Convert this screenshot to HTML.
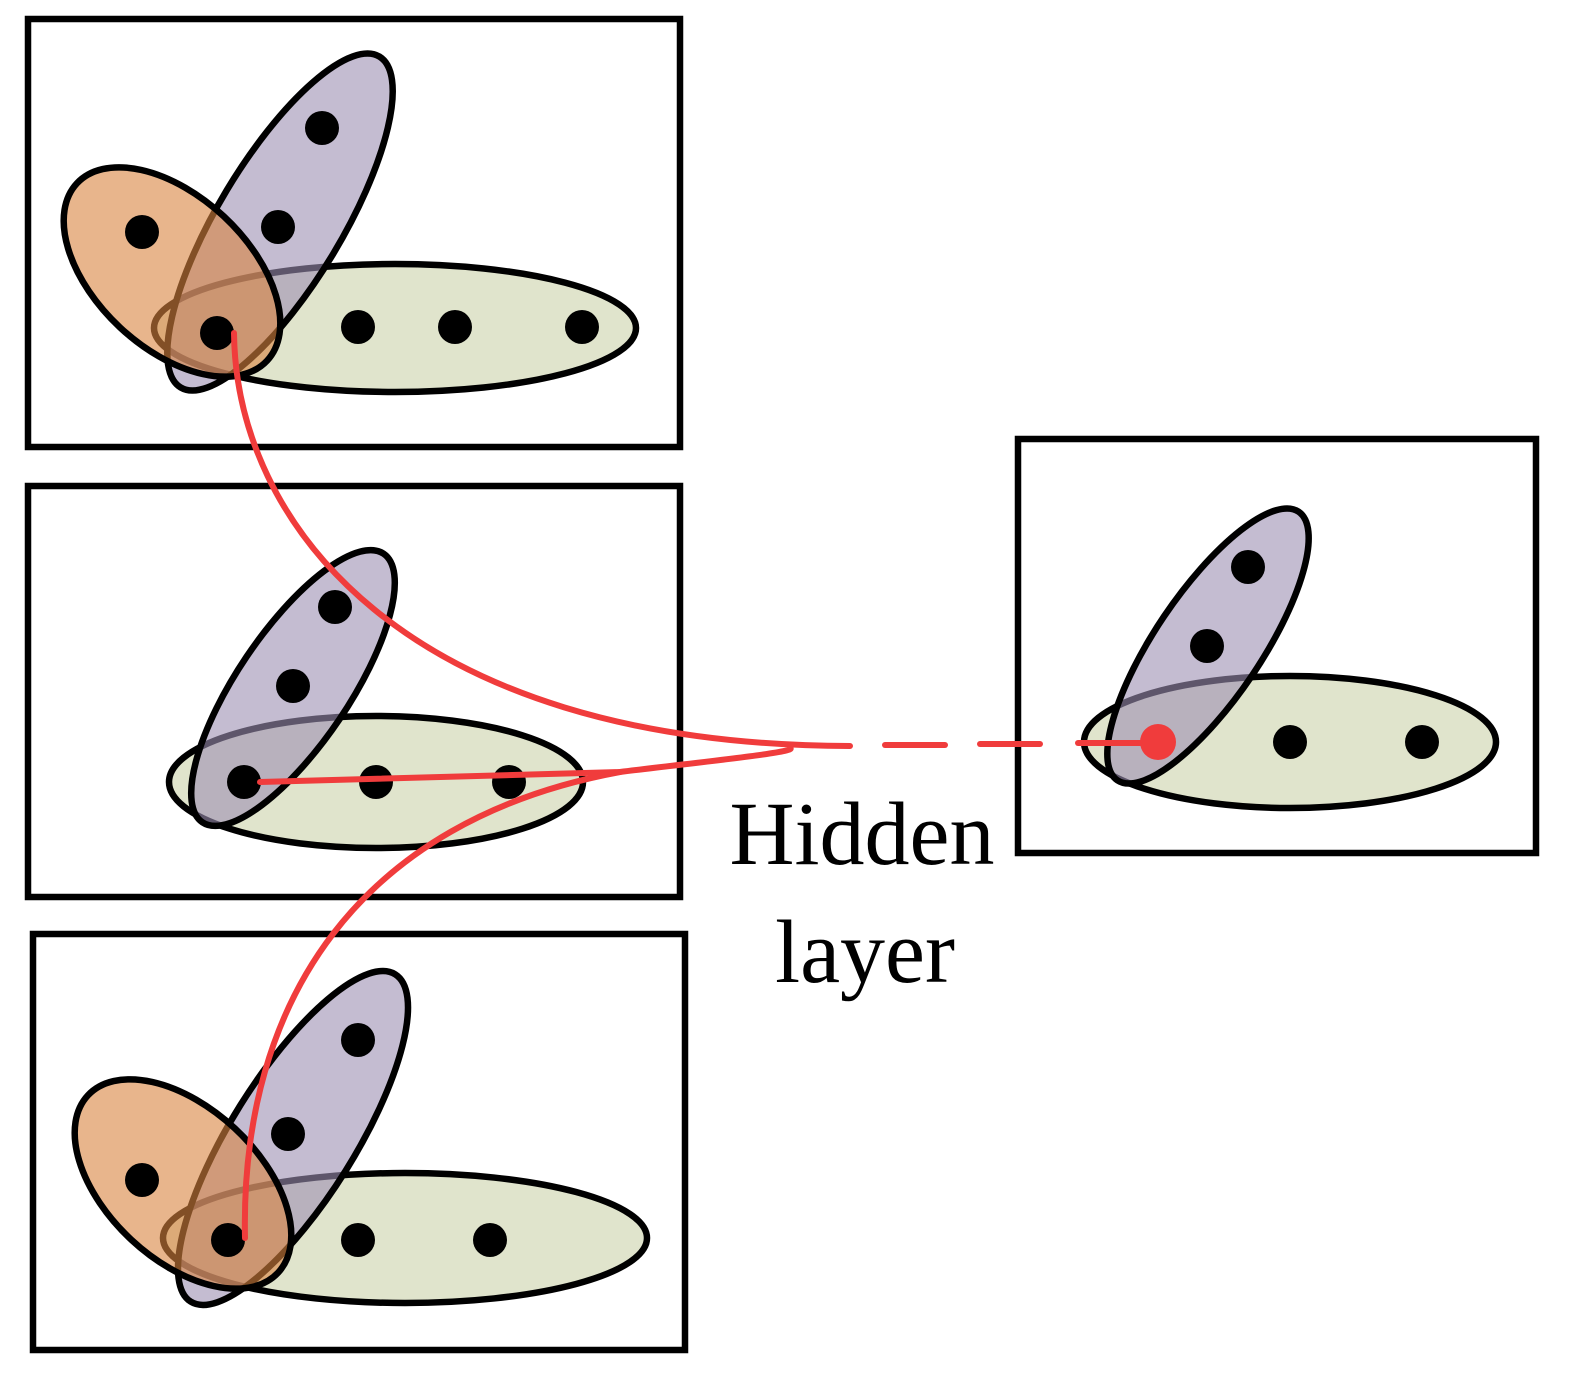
<!DOCTYPE html>
<html><head><meta charset="utf-8"><style>html,body{margin:0;padding:0;background:#fff}svg{display:block}</style></head>
<body>
<svg width="1588" height="1395" viewBox="0 0 1588 1395" xmlns="http://www.w3.org/2000/svg">
<g fill="none" stroke="#000" stroke-width="6.5">
<rect x="28" y="19" width="652" height="428"/>
<rect x="28" y="486" width="652" height="411"/>
<rect x="33" y="934" width="652" height="416"/>
<rect x="1018" y="439" width="518" height="414"/>
</g>
<g stroke="#000" stroke-width="6.5">
<ellipse cx="395" cy="328" rx="241" ry="64" fill="#e0e4cc"/>
<ellipse cx="0" cy="0" rx="193" ry="62" transform="translate(280,222) rotate(-59)" fill="#9d90b3" fill-opacity="0.6"/>
<ellipse cx="0" cy="0" rx="130" ry="76" transform="translate(172,272) rotate(43)" fill="#d9843f" fill-opacity="0.6"/>
<ellipse cx="376" cy="782" rx="207" ry="66" fill="#e0e4cc"/>
<ellipse cx="0" cy="0" rx="162" ry="56" transform="translate(293,688) rotate(-56)" fill="#9d90b3" fill-opacity="0.6"/>
<ellipse cx="405" cy="1238" rx="242" ry="65" fill="#e0e4cc"/>
<ellipse cx="0" cy="0" rx="193" ry="62" transform="translate(293,1138) rotate(-58)" fill="#9d90b3" fill-opacity="0.6"/>
<ellipse cx="0" cy="0" rx="130" ry="76" transform="translate(183,1184) rotate(43)" fill="#d9843f" fill-opacity="0.6"/>
<ellipse cx="1290" cy="742" rx="206" ry="66" fill="#e0e4cc"/>
<ellipse cx="0" cy="0" rx="162" ry="53" transform="translate(1208,646) rotate(-56)" fill="#9d90b3" fill-opacity="0.6"/>
</g>
<g fill="#000">
<circle cx="142" cy="232" r="17"/><circle cx="322" cy="128" r="17"/><circle cx="278" cy="227" r="17"/>
<circle cx="217" cy="333" r="17"/><circle cx="358" cy="327" r="17"/><circle cx="455" cy="327" r="17"/><circle cx="582" cy="327" r="17"/>
<circle cx="335" cy="607" r="17"/><circle cx="293" cy="686" r="17"/><circle cx="244" cy="782" r="17"/><circle cx="376" cy="782" r="17"/><circle cx="509" cy="782" r="17"/>
<circle cx="142" cy="1180" r="17"/><circle cx="358" cy="1040" r="17"/><circle cx="288" cy="1134" r="17"/><circle cx="228" cy="1240" r="17"/><circle cx="358" cy="1240" r="17"/><circle cx="490" cy="1240" r="17"/>
<circle cx="1248" cy="567" r="17"/><circle cx="1207" cy="646" r="17"/><circle cx="1290" cy="742" r="17"/><circle cx="1422" cy="742" r="17"/>
</g>
<g fill="none" stroke="#f03c3c" stroke-width="6" stroke-linecap="round">
<path d="M234,333 C236,520 400,745 850,746"/>
<path d="M260,782 L620,772 C700,762 800,752 790,748"/>
<path d="M245,1238 C240,1000 360,820 620,772"/>
<line x1="885" y1="745" x2="945" y2="745"/>
<line x1="980" y1="744" x2="1040" y2="744"/>
<line x1="1078" y1="743" x2="1140" y2="743"/>
</g>
<circle cx="1158" cy="742" r="18" fill="#f03c3c"/>
<g font-family="Liberation Serif, serif" font-size="90" fill="#000" text-anchor="middle">
<text x="862" y="864">Hidden</text>
<text x="865" y="982">layer</text>
</g>
</svg>
</body></html>
